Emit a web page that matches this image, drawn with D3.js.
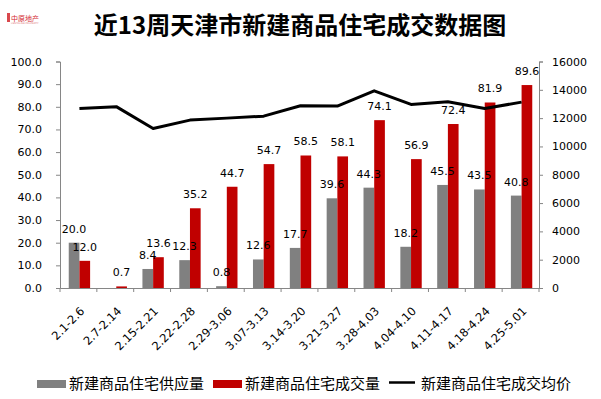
<!DOCTYPE html>
<html>
<head>
<meta charset="utf-8">
<script src="https://cdn.jsdelivr.net/npm/d3@7"></script>
<style>
  body { margin: 0; background: #fff; }
  svg { display: block; font-family: "DejaVu Sans", sans-serif; }
</style>
</head>
<body>
<svg id="chart" width="601" height="399"></svg>
<script>
// Chart data
const weeks = ['2.1-2.6', '2.7-2.14', '2.15-2.21', '2.22-2.28', '2.29-3.06', '3.07-3.13', '3.14-3.20',
    '3.21-3.27', '3.28-4.03', '4.04-4.10', '4.11-4.17', '4.18-4.24', '4.25-5.01'];
const supply = [20.0, null, 8.4, 12.3, 0.8, 12.6, 17.7, 39.6, 44.3, 18.2, 45.5, 43.5, 40.8];
const deals = [12.0, 0.7, 13.6, 35.2, 44.7, 54.7, 58.5, 58.1, 74.1, 56.9, 72.4, 81.9, 89.6];
const avgPrice = [12680, 12810, 11270, 11860, 12000, 12140, 12870, 12850, 13930, 12970, 13150, 12680, 13130];
const leftTicks = d3.range(0, 101, 10);
const rightTicks = d3.range(0, 16001, 2000);

const colors = { supply: '#808080', deals: '#C00000', price: '#000000', axis: '#868686' };

const svg = d3.select('#chart');
const plot = { left: 60, right: 539, top: 61.5, bottom: 288 };

// Scales
const x = d3.scaleBand().domain(weeks).range([plot.left, plot.right]).padding(0);
const yL = d3.scaleLinear().domain([0, 100]).range([plot.bottom, plot.top]);
const yR = d3.scaleLinear().domain([0, 16000]).range([plot.bottom, plot.top]);
const barW = x.bandwidth() * 0.29;
const cx = d => x(d) + x.bandwidth() / 2 + 1;

// Title
svg.append('text')
    .attr('x', 300).attr('y', 34)
    .attr('text-anchor', 'middle')
    .attr('font-family', '"Noto Sans CJK SC", sans-serif')
    .attr('font-weight', 'bold')
    .attr('font-size', 24)
    .text('近13周天津市新建商品住宅成交数据图');

// Logo
const logo = svg.append('g');
logo.append('rect').attr('x', 7).attr('y', 13).attr('width', 3).attr('height', 9).attr('fill', '#d9484d');
logo.append('text').attr('x', 11).attr('y', 20.5)
    .attr('font-family', '"Noto Sans CJK SC", sans-serif')
    .attr('font-size', 7).attr('fill', '#d42a30').text('中原地产');
logo.append('text').attr('x', 11).attr('y', 24)
    .attr('font-size', 2.5).attr('fill', '#e07a7e').text('CENTALINE PROPERTY');

// Axes
const leftAxis = svg.append('g')
    .attr('transform', `translate(${plot.left},0)`)
    .call(d3.axisLeft(yL).tickValues(leftTicks).tickFormat(d3.format('.1f')).tickSize(4).tickPadding(14));
const rightAxis = svg.append('g')
    .attr('transform', `translate(${plot.right},0)`)
    .call(d3.axisRight(yR).tickValues(rightTicks).tickFormat(d3.format('d')).tickSize(4).tickPadding(9));
const bottomAxis = svg.append('g')
    .attr('transform', `translate(0,${plot.bottom})`)
    .call(d3.axisBottom(x).tickSize(0).tickFormat(''));

[leftAxis, rightAxis, bottomAxis].forEach(g => {
    g.selectAll('.domain').attr('stroke', colors.axis);
    g.selectAll('.tick line').attr('stroke', colors.axis);
    g.selectAll('text').attr('font-size', 11).attr('fill', '#000')
        .attr('font-family', '"DejaVu Sans", sans-serif');
});

// category boundary ticks
bottomAxis.selectAll('line.sep')
    .data(weeks.concat(['_end']))
    .join('line')
    .attr('class', 'sep')
    .attr('x1', (d, i) => plot.left + i * x.bandwidth())
    .attr('x2', (d, i) => plot.left + i * x.bandwidth())
    .attr('y1', 0).attr('y2', 4)
    .attr('stroke', colors.axis);

// x labels
svg.append('g').selectAll('text')
    .data(weeks)
    .join('text')
    .attr('transform', d => `translate(${cx(d) + 3},${plot.bottom + 21}) rotate(-45)`)
    .attr('text-anchor', 'end')
    .attr('dy', '0.35em')
    .attr('font-size', 11.5)
    .text(d => d);

// Bars
const bars = svg.append('g');
bars.selectAll('rect.supply')
    .data(weeks.map((w, i) => ({ w, v: supply[i] })).filter(d => d.v != null))
    .join('rect')
    .attr('class', 'supply')
    .attr('x', d => cx(d.w) - barW)
    .attr('y', d => yL(d.v))
    .attr('width', barW)
    .attr('height', d => yL(0) - yL(d.v))
    .attr('fill', colors.supply);

bars.selectAll('rect.deals')
    .data(weeks.map((w, i) => ({ w, v: deals[i] })))
    .join('rect')
    .attr('class', 'deals')
    .attr('x', d => cx(d.w))
    .attr('y', d => yL(d.v))
    .attr('width', barW)
    .attr('height', d => yL(0) - yL(d.v))
    .attr('fill', colors.deals);

// Price line
const line = d3.line()
    .x((d, i) => cx(weeks[i]))
    .y(d => yR(d));
svg.append('path')
    .datum(avgPrice)
    .attr('d', line)
    .attr('fill', 'none')
    .attr('stroke', colors.price)
    .attr('stroke-width', 3)
    .attr('stroke-linejoin', 'round');

// Value labels
const labels = svg.append('g').attr('font-size', 11).attr('text-anchor', 'middle');
labels.selectAll('text.supply')
    .data(weeks.map((w, i) => ({ w, v: supply[i] })).filter(d => d.v != null))
    .join('text')
    .attr('x', d => cx(d.w) - barW / 2)
    .attr('y', d => yL(d.v) - 10)
    .text(d => d3.format('.1f')(d.v));
labels.selectAll('text.deals')
    .data(weeks.map((w, i) => ({ w, v: deals[i] })))
    .join('text')
    .attr('x', d => cx(d.w) + barW / 2)
    .attr('y', d => yL(d.v) - 10)
    .text(d => d3.format('.1f')(d.v));

// Legend
const legend = svg.append('g')
    .attr('font-family', '"Noto Sans CJK SC", sans-serif')
    .attr('font-size', 15);
const legendItems = [
    { name: '新建商品住宅供应量', type: 'rect', color: colors.supply, x: 37 },
    { name: '新建商品住宅成交量', type: 'rect', color: colors.deals, x: 213 },
    { name: '新建商品住宅成交均价', type: 'line', color: colors.price, x: 389 }
];
legendItems.forEach(item => {
    if (item.type === 'rect') {
        legend.append('rect').attr('x', item.x).attr('y', 380).attr('width', 29).attr('height', 8).attr('fill', item.color);
    } else {
        legend.append('line').attr('x1', item.x).attr('x2', item.x + 26).attr('y1', 382.5).attr('y2', 382.5)
            .attr('stroke', item.color).attr('stroke-width', 2.5);
    }
    legend.append('text').attr('x', item.x + 32).attr('y', 389).text(item.name);
});
</script>
</body>
</html>
